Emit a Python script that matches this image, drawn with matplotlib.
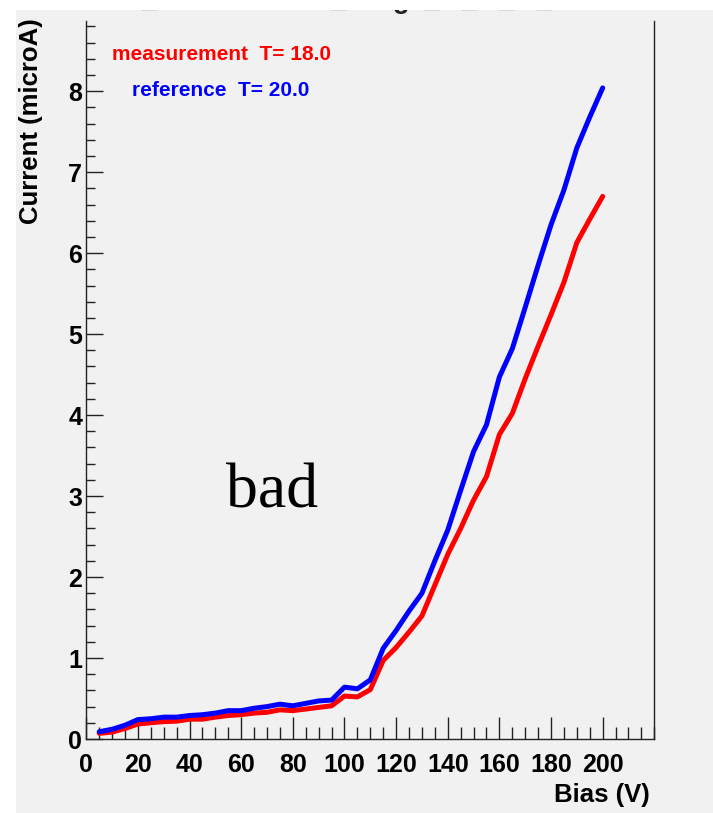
import matplotlib
matplotlib.use("Agg")
import matplotlib.pyplot as plt
from matplotlib.patches import Rectangle
from matplotlib.ticker import MultipleLocator, FixedLocator

# ── Data ──────────────────────────────────────────────────────────────────────
bias = [5, 10, 15, 20, 25, 30, 35, 40, 45, 50, 55, 60, 65, 70, 75, 80, 85, 90,
        95, 100, 105, 110, 115, 120, 125, 130, 135, 140, 145, 150, 155, 160,
        165, 170, 175, 180, 185, 190, 195, 200]

current_meas = [0.07, 0.085, 0.13, 0.185, 0.20, 0.215, 0.22, 0.245, 0.245, 0.27,
                0.29, 0.30, 0.32, 0.33, 0.36, 0.35, 0.37, 0.39, 0.41, 0.53,
                0.52, 0.61, 0.97, 1.13, 1.32, 1.52, 1.90, 2.28, 2.60, 2.95,
                3.24, 3.76, 4.02, 4.45, 4.85, 5.24, 5.64, 6.13, 6.42, 6.70]

current_ref = [0.09, 0.12, 0.17, 0.24, 0.25, 0.27, 0.27, 0.29, 0.30, 0.32,
               0.35, 0.35, 0.38, 0.40, 0.43, 0.41, 0.44, 0.47, 0.48, 0.64,
               0.62, 0.73, 1.12, 1.34, 1.58, 1.80, 2.20, 2.58, 3.07, 3.55,
               3.88, 4.47, 4.82, 5.33, 5.85, 6.35, 6.78, 7.30, 7.68, 8.04]

temp_meas = 18.0
temp_ref = 20.0

x_ticks = [0, 20, 40, 60, 80, 100, 120, 140, 160, 180, 200]
y_ticks = [0, 1, 2, 3, 4, 5, 6, 7, 8]

# ── Figure ────────────────────────────────────────────────────────────────────
W, H = 713, 813
fig = plt.figure(figsize=(W / 100, H / 100), dpi=100, facecolor="white")

def fx(px):
    return px / W

def fy(py):
    return 1 - py / H

# grey canvas pad, with a white band on top that crops the title
fig.patches.append(Rectangle((fx(16), 0), 1 - fx(16), fy(10), transform=fig.transFigure,
                             facecolor="#f1f1f1", edgecolor="none", zorder=-1))
fig.patches.append(Rectangle((0, fy(10)), 1, 1 - fy(10), transform=fig.transFigure,
                             facecolor="white", edgecolor="none", zorder=10))

ax = fig.add_axes([fx(86.3), fy(739), fx(654.3) - fx(86.3), fy(20.7) - fy(739)])
ax.set_facecolor("none")

ax.plot(bias, current_meas, color="#ff0000", lw=3.6, solid_joinstyle="round",
        solid_capstyle="round", zorder=3)
ax.plot(bias, current_ref, color="#0000ff", lw=3.6, solid_joinstyle="round",
        solid_capstyle="round", zorder=3)

ax.set_xlim(0, 220)
ax.set_ylim(0, 8.87)

ax.spines["top"].set_visible(False)
for side in ["left", "bottom", "right"]:
    ax.spines[side].set_color("#222222")
    ax.spines[side].set_linewidth(1.0)

ax.xaxis.set_major_locator(FixedLocator(x_ticks))
ax.xaxis.set_minor_locator(MultipleLocator(5))
ax.yaxis.set_major_locator(FixedLocator(y_ticks))
ax.yaxis.set_minor_locator(MultipleLocator(0.2))

tick_font = dict(family="Liberation Sans", weight="bold", size=18)
ax.set_xticklabels([str(t) for t in x_ticks], fontdict=tick_font)
ax.set_yticklabels([str(t) for t in y_ticks], fontdict=tick_font)

ax.tick_params(axis="x", which="major", direction="in", length=15.6, width=1.0,
               color="#222222", pad=10)
ax.tick_params(axis="x", which="minor", direction="in", length=8.4, width=1.0,
               color="#222222")
ax.tick_params(axis="y", which="major", direction="in", length=12.2, width=1.0,
               color="#222222", pad=3)
ax.tick_params(axis="y", which="minor", direction="in", length=6.5, width=1.0,
               color="#222222")

# axis titles
label_font = dict(family="Liberation Sans", weight="bold", size=18.5)
fig.text(fx(650), fy(795), "Bias (V)", ha="right", va="center", **label_font)
fig.text(fx(31), fy(18), "Current (microA)", rotation=90, ha="center", va="top",
         **label_font)

# temperature legend
legend_font = dict(family="Liberation Sans", weight="bold", size=15)
fig.text(fx(112), fy(54), f"measurement  T= {temp_meas:.1f}", color="#ff0000",
         ha="left", va="center", **legend_font)
fig.text(fx(132), fy(91), f"reference  T= {temp_ref:.1f}", color="#0000ff",
         ha="left", va="center", **legend_font)

# status stamp
fig.text(fx(272), fy(507), "bad", ha="center", va="baseline",
         family="Liberation Serif", size=46, color="black")

# plot title, only its lowest strokes poke below the top band
title_glyphs = ["_", "_", "g", "_", "_", "_", "_"]
title_x = [141, 330, 393, 423, 461, 498, 536]
for g, x in zip(title_glyphs, title_x):
    fig.text(fx(x), fy(8), g, ha="left", va="baseline", family="Liberation Sans",
             weight="bold", size=19.5, color="#222222")

fig.savefig("out.png", dpi=100, facecolor="white")
